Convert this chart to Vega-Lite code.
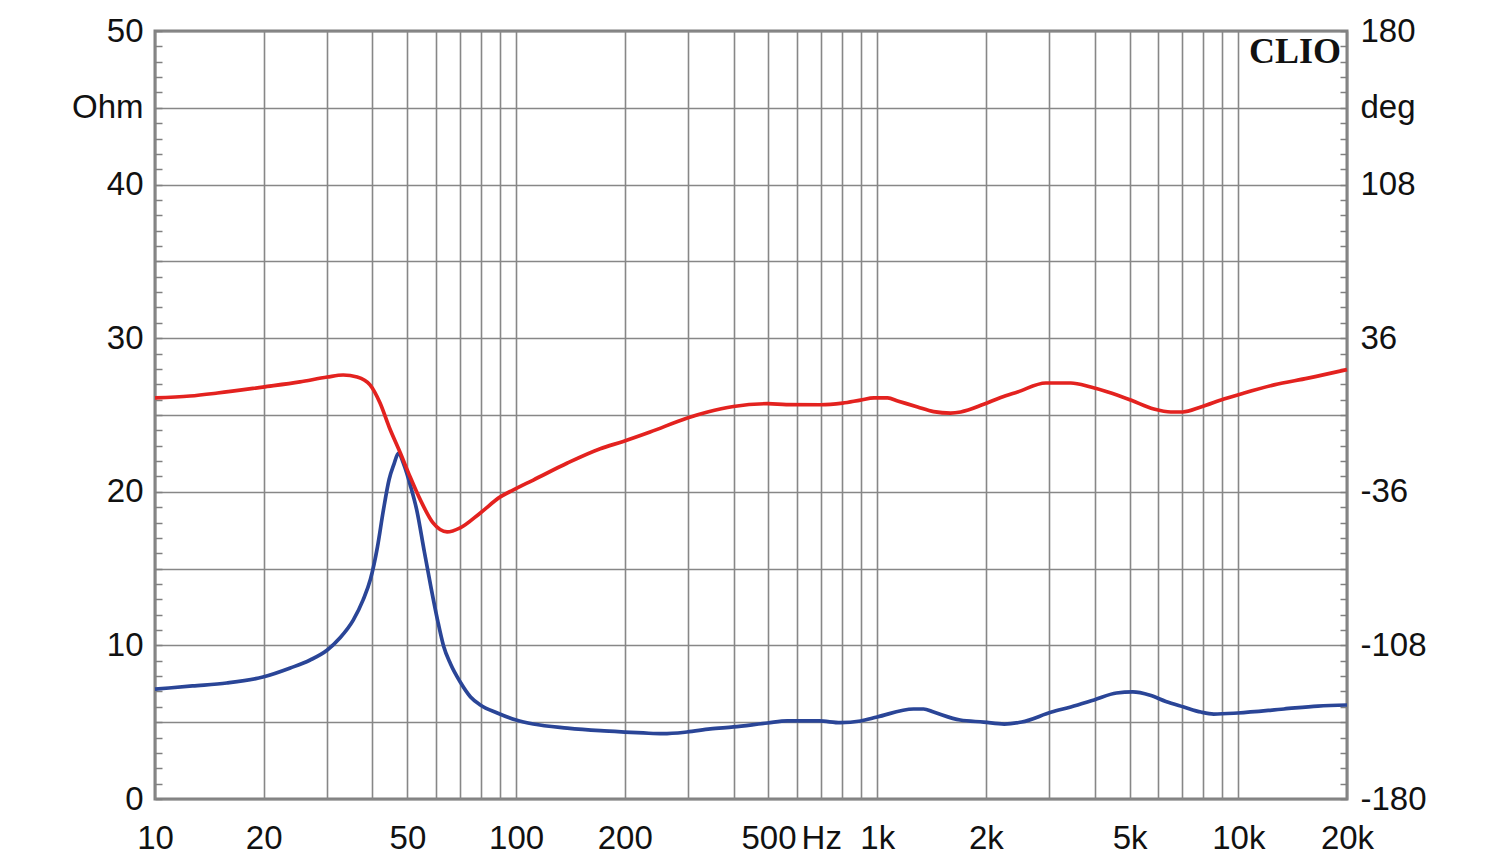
{
  "$schema": "https://vega.github.io/schema/vega-lite/v6.json",
  "width": 1192,
  "height": 768,
  "autosize": {"type": "none"},
  "padding": {"left": 155, "top": 31, "right": 153, "bottom": 65},
  "background": "white",
  "config": {
    "view": {"stroke": "#808080", "strokeWidth": 3},
    "axis": {
      "labelFont": "Liberation Sans",
      "labelFontSize": 33,
      "labelColor": "#111111",
      "labelOverlap": false,
      "domain": false,
      "gridColor": "#878787",
      "gridWidth": 1.6,
      "tickColor": "#808080",
      "tickWidth": 1.5,
      "title": null
    }
  },
  "datasets": {
    "impedance": [
      {"freq": 10, "ohm": 7.15}, {"freq": 12.7, "ohm": 7.36}, {"freq": 15.8, "ohm": 7.55},
      {"freq": 19.9, "ohm": 7.94}, {"freq": 23.7, "ohm": 8.53}, {"freq": 26.9, "ohm": 9.05},
      {"freq": 30, "ohm": 9.7}, {"freq": 32.5, "ohm": 10.48}, {"freq": 35.4, "ohm": 11.65},
      {"freq": 37.7, "ohm": 12.96}, {"freq": 39.5, "ohm": 14.3}, {"freq": 41.3, "ohm": 16.4},
      {"freq": 42.9, "ohm": 18.8}, {"freq": 44.5, "ohm": 20.8}, {"freq": 45.9, "ohm": 21.8},
      {"freq": 47.2, "ohm": 22.5}, {"freq": 49, "ohm": 21.7}, {"freq": 50.9, "ohm": 20.45},
      {"freq": 53.2, "ohm": 18.7}, {"freq": 55.6, "ohm": 16.2}, {"freq": 58.2, "ohm": 13.7},
      {"freq": 60.6, "ohm": 11.65}, {"freq": 62.9, "ohm": 10.0}, {"freq": 65.8, "ohm": 8.8},
      {"freq": 70.3, "ohm": 7.55}, {"freq": 74.8, "ohm": 6.64}, {"freq": 79.6, "ohm": 6.12},
      {"freq": 88.7, "ohm": 5.6}, {"freq": 100, "ohm": 5.14}, {"freq": 111.6, "ohm": 4.88},
      {"freq": 138.7, "ohm": 4.62}, {"freq": 171, "ohm": 4.45}, {"freq": 200, "ohm": 4.36},
      {"freq": 225, "ohm": 4.3}, {"freq": 255, "ohm": 4.25}, {"freq": 297, "ohm": 4.36},
      {"freq": 345, "ohm": 4.56}, {"freq": 400, "ohm": 4.69}, {"freq": 497, "ohm": 4.95},
      {"freq": 564, "ohm": 5.08}, {"freq": 690, "ohm": 5.08}, {"freq": 790, "ohm": 4.97},
      {"freq": 899, "ohm": 5.08}, {"freq": 1000, "ohm": 5.34}, {"freq": 1261, "ohm": 5.86},
      {"freq": 1344, "ohm": 5.86}, {"freq": 1433, "ohm": 5.66}, {"freq": 1697, "ohm": 5.14},
      {"freq": 1972, "ohm": 5.01}, {"freq": 2248, "ohm": 4.88}, {"freq": 2513, "ohm": 5.01},
      {"freq": 3040, "ohm": 5.66}, {"freq": 3436, "ohm": 5.99}, {"freq": 3987, "ohm": 6.45},
      {"freq": 4600, "ohm": 6.9}, {"freq": 5100, "ohm": 6.97}, {"freq": 5700, "ohm": 6.75},
      {"freq": 6300, "ohm": 6.35}, {"freq": 7064, "ohm": 5.99}, {"freq": 7877, "ohm": 5.66},
      {"freq": 8551, "ohm": 5.53}, {"freq": 9970, "ohm": 5.6}, {"freq": 13380, "ohm": 5.86},
      {"freq": 16620, "ohm": 6.05}, {"freq": 20000, "ohm": 6.12}
    ],
    "phase": [
      {"freq": 10, "deg": 8.0}, {"freq": 12.5, "deg": 8.9}, {"freq": 14.9, "deg": 10.3},
      {"freq": 19.9, "deg": 13.1}, {"freq": 25.2, "deg": 15.5}, {"freq": 30, "deg": 17.8},
      {"freq": 33.2, "deg": 18.75}, {"freq": 36.3, "deg": 17.8}, {"freq": 39.4, "deg": 14.1},
      {"freq": 42.0, "deg": 5.6}, {"freq": 44.5, "deg": -5.6}, {"freq": 47.8, "deg": -17.8},
      {"freq": 50.9, "deg": -29.1}, {"freq": 54.3, "deg": -39.8}, {"freq": 58.9, "deg": -50.6},
      {"freq": 64.4, "deg": -54.8}, {"freq": 70, "deg": -52.9}, {"freq": 79.6, "deg": -45.9},
      {"freq": 90.4, "deg": -38.4}, {"freq": 98, "deg": -35.2}, {"freq": 111.6, "deg": -30.5},
      {"freq": 138.7, "deg": -22.5}, {"freq": 171, "deg": -15.8}, {"freq": 198, "deg": -12.4},
      {"freq": 235, "deg": -8.0}, {"freq": 298, "deg": -1.4}, {"freq": 339, "deg": 1.4},
      {"freq": 400, "deg": 4.0}, {"freq": 497, "deg": 5.3}, {"freq": 560, "deg": 4.9},
      {"freq": 697, "deg": 4.8}, {"freq": 802, "deg": 5.6}, {"freq": 899, "deg": 7.0},
      {"freq": 980, "deg": 8.0}, {"freq": 1069, "deg": 8.0}, {"freq": 1139, "deg": 6.6},
      {"freq": 1294, "deg": 3.75}, {"freq": 1433, "deg": 1.6}, {"freq": 1597, "deg": 0.9},
      {"freq": 1703, "deg": 1.4}, {"freq": 1972, "deg": 5.0}, {"freq": 2198, "deg": 8.2},
      {"freq": 2448, "deg": 10.8}, {"freq": 2930, "deg": 15.0}, {"freq": 3436, "deg": 15.0},
      {"freq": 3902, "deg": 13.1}, {"freq": 4351, "deg": 10.8}, {"freq": 5037, "deg": 7.0},
      {"freq": 5835, "deg": 2.8}, {"freq": 6505, "deg": 1.4}, {"freq": 7019, "deg": 1.4},
      {"freq": 7877, "deg": 3.75}, {"freq": 9120, "deg": 7.5}, {"freq": 10370, "deg": 10.3},
      {"freq": 12560, "deg": 14.1}, {"freq": 15600, "deg": 17.3}, {"freq": 20000, "deg": 21.3}
    ],
    "label": [{"name": "CLIO"}]
  },
  "layer": [
    {
      "data": {"name": "impedance"},
      "mark": {"type": "line", "color": "#2a4597", "strokeWidth": 3.7, "interpolate": "monotone"},
      "encoding": {
        "x": {
          "field": "freq", "type": "quantitative",
          "scale": {"type": "log", "domain": [10, 20000], "nice": false},
          "axis": {
            "orient": "bottom",
            "title": null,
            "values": [10, 20, 30, 40, 50, 60, 70, 80, 90, 100, 200, 300, 400, 500, 600, 700, 800, 900, 1000, 2000, 3000, 4000, 5000, 6000, 7000, 8000, 9000, 10000, 20000],
            "grid": true,
            "ticks": false,
            "labelPadding": 23,
            "labelBaseline": "top",
            "labelAlign": "center",
            "labelExpr": "datum.value == 10 ? '10' : datum.value == 20 ? '20' : datum.value == 50 ? '50' : datum.value == 100 ? '100' : datum.value == 200 ? '200' : datum.value == 500 ? '500' : datum.value == 700 ? 'Hz' : datum.value == 1000 ? '1k' : datum.value == 2000 ? '2k' : datum.value == 5000 ? '5k' : datum.value == 10000 ? '10k' : datum.value == 20000 ? '20k' : ''"
          }
        },
        "y": {
          "field": "ohm", "type": "quantitative",
          "scale": {"domain": [0, 50], "nice": false, "zero": false},
          "axis": {
            "orient": "left",
            "title": null,
            "values": [0, 1, 2, 3, 4, 5, 6, 7, 8, 9, 10, 11, 12, 13, 14, 15, 16, 17, 18, 19, 20, 21, 22, 23, 24, 25, 26, 27, 28, 29, 30, 31, 32, 33, 34, 35, 36, 37, 38, 39, 40, 41, 42, 43, 44, 45, 46, 47, 48, 49, 50],
            "grid": true,
            "gridOpacity": {"condition": {"test": "datum.value % 5 === 0", "value": 1}, "value": 0},
            "ticks": true,
            "tickSize": -7,
            "labelPadding": 19,
            "labelAlign": "right",
            "labelBaseline": "middle",
            "labelExpr": "datum.value == 45 ? 'Ohm' : datum.value % 10 == 0 ? datum.label : ''"
          }
        }
      }
    },
    {
      "data": {"name": "phase"},
      "mark": {"type": "line", "color": "#e3221f", "strokeWidth": 3.7, "interpolate": "monotone"},
      "encoding": {
        "x": {"field": "freq", "type": "quantitative", "scale": {"type": "log", "domain": [10, 20000], "nice": false}},
        "y": {
          "field": "deg", "type": "quantitative",
          "scale": {"domain": [-180, 180], "nice": false, "zero": false},
          "axis": {
            "orient": "right",
            "title": null,
            "values": [-180, -172.8, -165.6, -158.4, -151.2, -144, -136.8, -129.6, -122.4, -115.2, -108, -100.8, -93.6, -86.4, -79.2, -72, -64.8, -57.6, -50.4, -43.2, -36, -28.8, -21.6, -14.4, -7.2, 0, 7.2, 14.4, 21.6, 28.8, 36, 43.2, 50.4, 57.6, 64.8, 72, 79.2, 86.4, 93.6, 100.8, 108, 115.2, 122.4, 129.6, 136.8, 144, 151.2, 158.4, 165.6, 172.8, 180],
            "grid": false,
            "ticks": true,
            "tickSize": -7,
            "labelPadding": 20,
            "labelAlign": "left",
            "labelBaseline": "middle",
            "labelExpr": "datum.value == 144 ? 'deg' : datum.value == 180 ? '180' : datum.value == 108 ? '108' : datum.value == 36 ? '36' : datum.value == -36 ? '-36' : datum.value == -108 ? '-108' : datum.value == -180 ? '-180' : ''"
          }
        }
      }
    },
    {
      "data": {"name": "label"},
      "mark": {"type": "text", "font": "Liberation Serif", "fontWeight": "bold", "fontSize": 36, "align": "right", "baseline": "top", "dx": -6, "dy": 4, "color": "#111111"},
      "encoding": {
        "x": {"datum": 20000, "type": "quantitative", "scale": {"type": "log", "domain": [10, 20000], "nice": false}},
        "y": {"datum": 50, "type": "quantitative", "scale": {"domain": [0, 50], "nice": false, "zero": false}, "axis": null},
        "text": {"field": "name"}
      }
    }
  ],
  "resolve": {"scale": {"y": "independent"}}
}
